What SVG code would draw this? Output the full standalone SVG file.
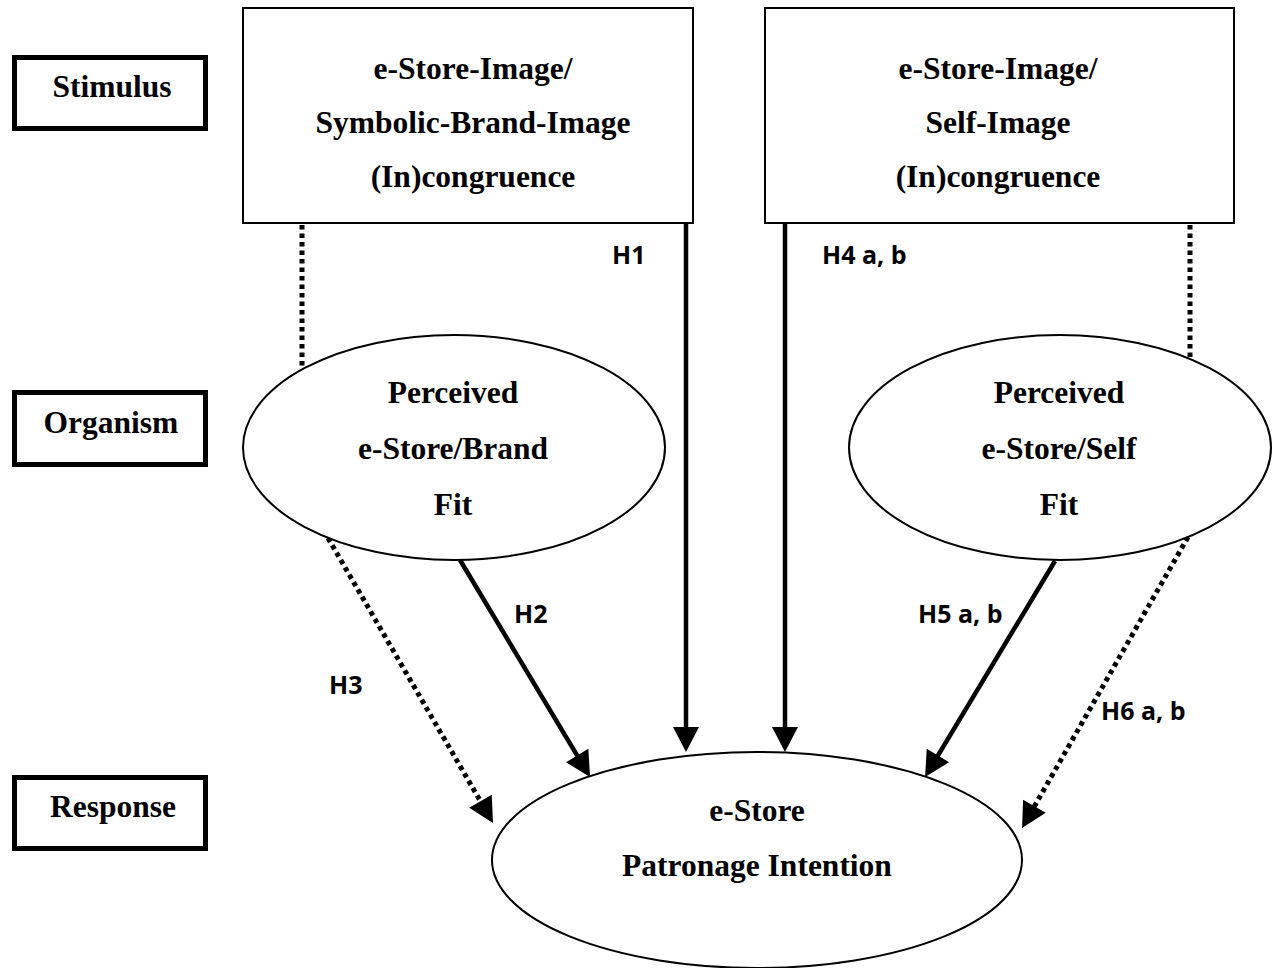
<svg xmlns="http://www.w3.org/2000/svg" width="1272" height="968" viewBox="0 0 1272 968">
  <style>
    .bg { fill: #ffffff; }
    .stage { fill: #ffffff; stroke: #000000; stroke-width: 5; }
    .box { fill: #ffffff; stroke: #000000; stroke-width: 2; }
    .oval { fill: #ffffff; stroke: #000000; stroke-width: 2; }
    .t { font-family: "Liberation Serif", "Times New Roman", serif; font-weight: bold; font-size: 31.5px; fill: #000000; text-anchor: middle; }
    .h { font-family: "Open Sans", "Liberation Sans", sans-serif; font-weight: bold; font-size: 25px; fill: #000000; }
    .solid { fill: none; stroke: #000000; stroke-width: 4.5; }
    .dot { fill: none; stroke: #000000; stroke-width: 5; stroke-dasharray: 4.5 4; }
  </style>
  <defs>
    <marker id="head" markerUnits="userSpaceOnUse" markerWidth="26" markerHeight="28" refX="15" refY="13" orient="auto" overflow="visible">
      <path d="M0,0 L25,13 L0,26 Z" fill="#000000"/>
    </marker>
  </defs>

  <rect class="bg" x="0" y="0" width="1272" height="968"/>

  <!-- stage labels -->
  <g id="stage-stimulus">
    <rect class="stage" x="14.5" y="57.5" width="191" height="71"/>
    <text class="t" x="112" y="97">Stimulus</text>
  </g>
  <g id="stage-organism">
    <rect class="stage" x="14.5" y="392.5" width="191" height="72"/>
    <text class="t" x="111" y="433">Organism</text>
  </g>
  <g id="stage-response">
    <rect class="stage" x="14.5" y="777.5" width="191" height="71"/>
    <text class="t" x="113" y="817">Response</text>
  </g>

  <!-- stimulus constructs -->
  <g id="brand-congruence">
    <rect class="box" x="243" y="8" width="450" height="215"/>
    <text class="t" x="473" y="79">e-Store-Image/</text>
    <text class="t" x="473" y="133">Symbolic-Brand-Image</text>
    <text class="t" x="473" y="187">(In)congruence</text>
  </g>
  <g id="self-congruence">
    <rect class="box" x="765" y="8" width="469" height="215"/>
    <text class="t" x="998" y="79">e-Store-Image/</text>
    <text class="t" x="998" y="133">Self-Image</text>
    <text class="t" x="998" y="187">(In)congruence</text>
  </g>

  <!-- connectors -->
  <g id="connectors">
    <line class="dot" x1="302" y1="225" x2="302" y2="369"/>
    <line class="dot" x1="1190" y1="225" x2="1190" y2="359"/>
    <line class="solid" x1="686" y1="223" x2="686" y2="742" marker-end="url(#head)"/>
    <line class="solid" x1="785" y1="223" x2="785" y2="742" marker-end="url(#head)"/>
    <line class="solid" x1="460" y1="560" x2="584.9" y2="768.4" marker-end="url(#head)"/>
    <line class="solid" x1="1055" y1="561" x2="930.2" y2="768.4" marker-end="url(#head)"/>
    <line class="dot" x1="328" y1="538" x2="488" y2="814.3" marker-end="url(#head)"/>
    <line class="dot" x1="1188" y1="537" x2="1027" y2="819.3" marker-end="url(#head)"/>
    <text class="h" x="612" y="264">H1</text>
    <text class="h" x="822" y="264">H4 a, b</text>
    <text class="h" x="514" y="623">H2</text>
    <text class="h" x="329" y="694">H3</text>
    <text class="h" x="918" y="623">H5 a, b</text>
    <text class="h" x="1101" y="720">H6 a, b</text>
  </g>

  <!-- organism constructs -->
  <g id="brand-fit">
    <ellipse class="oval" cx="454" cy="447.5" rx="211" ry="112.5"/>
    <text class="t" x="453" y="403">Perceived</text>
    <text class="t" x="453" y="459">e-Store/Brand</text>
    <text class="t" x="453" y="515">Fit</text>
  </g>
  <g id="self-fit">
    <ellipse class="oval" cx="1060" cy="447.5" rx="211" ry="112.5"/>
    <text class="t" x="1059" y="403">Perceived</text>
    <text class="t" x="1059" y="459">e-Store/Self</text>
    <text class="t" x="1059" y="515">Fit</text>
  </g>

  <!-- response construct -->
  <g id="patronage">
    <ellipse class="oval" cx="757" cy="860" rx="265" ry="108"/>
    <text class="t" x="757" y="821">e-Store</text>
    <text class="t" x="757" y="876">Patronage Intention</text>
  </g>
</svg>
